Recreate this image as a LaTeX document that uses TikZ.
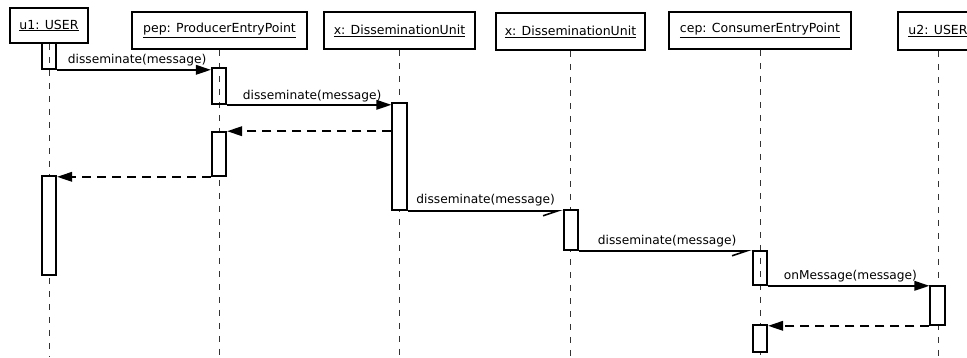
\documentclass[tikz,border=0pt]{standalone}
\usepackage{fontspec}
\setmainfont{DejaVu Sans}
\usetikzlibrary{arrows.meta}
\begin{document}
\begin{tikzpicture}[x=1pt,y=-1pt,
  every node/.style={font=\fontsize{12.2}{14}\selectfont},
  objbox/.style={draw, line width=1.8pt, fill=white, inner sep=0pt, minimum height=37pt, align=center, font=\fontsize{12.5}{14}\selectfont},
  bar/.style={draw, line width=1.6pt, inner sep=0pt, minimum width=14.5pt},
  barfill/.style={bar, fill=white},
  lifeline/.style={line width=0.9pt, black!80, dash pattern=on 6pt off 7pt},
  msg/.style={line width=1.8pt, -{Triangle[length=15pt,width=9.5pt]}},
  asyncmsg/.style={line width=1.8pt, -{Straight Barb[harpoon,swap,length=15pt,width=10pt,line width=1.6pt]}},
  reply/.style={line width=1.8pt, dash pattern=on 9pt off 6pt, -{Triangle[length=15pt,width=9.5pt]}},
  lbl/.style={anchor=base west, inner sep=0pt, pos=0}]
\useasboundingbox (0,0) rectangle (967,357);
\clip (0,0) rectangle (967,357);
\coordinate (bottom) at (0,357);

% object headers
\node[objbox, minimum width=78pt, minimum height=35pt] (u1)  at (49,25.5)    {\underline{u1: USER}};
\node[objbox, minimum width=175pt] (pep) at (219.5,30.5) {\underline{pep: ProducerEntryPoint}};
\node[objbox, minimum width=151pt] (x1)  at (399.5,30.5) {\underline{x: DisseminationUnit}};
\node[objbox, minimum width=149pt] (x2)  at (570.5,31.5) {\underline{x: DisseminationUnit}};
\node[objbox, minimum width=182pt] (cep) at (760,30.5)   {\underline{cep: ConsumerEntryPoint}};
\node[objbox, minimum width=80pt, minimum height=38pt] (u2) at (938,31) {\underline{u2: USER}};

% lifelines
\foreach \o in {u1,pep,x1,x2,cep,u2}
  \draw[lifeline] (\o.south) -- (\o.south |- bottom);

% activation bars
\node[bar,     minimum height=26pt]  (u1a)  at (49,56)    {};
\node[bar,     minimum height=36pt]  (pepa) at (219,86)   {};
\node[barfill, minimum height=107pt] (x1a)  at (399.5,156.5) {};
\node[barfill, minimum height=44pt]  (pepb) at (219,154)  {};
\node[barfill, minimum height=99pt]  (u1b)  at (49,225.5) {};
\node[barfill, minimum height=40pt]  (x2a)  at (571,230)  {};
\node[bar,     minimum height=34pt]  (cepa) at (760,268)  {};
\node[barfill, minimum height=39pt]  (u2a)  at (937.5,305.5) {};
\node[barfill, minimum height=27pt]  (cepb) at (760,338.5) {};

% messages
\draw[msg] (u1a.south east) -- (u1a.south east -| pepa.west)
  node[lbl, xshift=10pt, yshift=6pt] {disseminate(message)};
\draw[msg] (pepa.south east) -- (pepa.south east -| x1a.west)
  node[lbl, xshift=15pt, yshift=5pt] {disseminate(message)};
\draw[reply] (pepb.north east -| x1a.west) -- (pepb.north east);
\draw[reply] (pepb.south west) -- (pepb.south west -| u1b.east);
\draw[asyncmsg] (x1a.south east) -- (x1a.south east -| x2a.west)
  node[lbl, xshift=8pt, yshift=7pt] {disseminate(message)};
\draw[asyncmsg] (x2a.south east) -- (x2a.south east -| cepa.west)
  node[lbl, xshift=18pt, yshift=6pt] {disseminate(message)};
\draw[msg] (cepa.south east) -- (cepa.south east -| u2a.west)
  node[lbl, xshift=15pt, yshift=6pt] {onMessage(message)};
\draw[reply] (u2a.south west) -- (u2a.south west -| cepb.east);
\end{tikzpicture}
\end{document}
